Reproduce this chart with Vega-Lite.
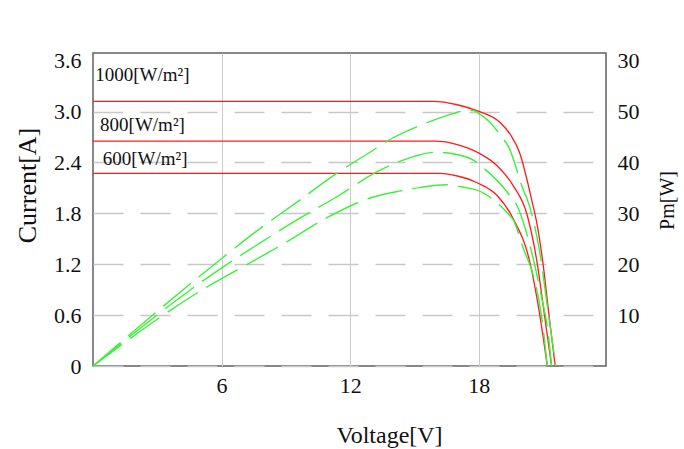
{
  "$schema": "https://vega.github.io/schema/vega-lite/v6.json",
  "autosize": {"type": "none"},
  "padding": {"left": 93, "top": 53, "right": 78, "bottom": 83},
  "width": 513,
  "height": 313,
  "background": "white",
  "config": {
    "font": "Liberation Serif",
    "view": {"stroke": "#606060", "strokeWidth": 1.5},
    "axis": {
      "labelFont": "Liberation Serif",
      "titleFont": "Liberation Serif",
      "labelColor": "#111111",
      "titleColor": "#111111",
      "titleFontWeight": "normal",
      "ticks": false,
      "domain": false,
      "labelFontSize": 22,
      "titleFontSize": 24
    }
  },
  "datasets": {
    "iv": [
      {"G": "1000", "V": 0, "I": 3.12},
      {"G": "1000", "V": 8, "I": 3.12},
      {"G": "1000", "V": 15.9, "I": 3.12},
      {"G": "1000", "V": 17.0, "I": 3.08},
      {"G": "1000", "V": 17.9, "I": 3.01},
      {"G": "1000", "V": 19.0, "I": 2.87},
      {"G": "1000", "V": 19.5, "I": 2.72},
      {"G": "1000", "V": 19.9, "I": 2.52},
      {"G": "1000", "V": 20.48, "I": 1.95},
      {"G": "1000", "V": 20.73, "I": 1.66},
      {"G": "1000", "V": 21.0, "I": 1.21},
      {"G": "1000", "V": 21.28, "I": 0.6},
      {"G": "1000", "V": 21.57, "I": 0},
      {"G": "800", "V": 0, "I": 2.65},
      {"G": "800", "V": 8, "I": 2.65},
      {"G": "800", "V": 16.0, "I": 2.65},
      {"G": "800", "V": 17.0, "I": 2.61},
      {"G": "800", "V": 17.93, "I": 2.52},
      {"G": "800", "V": 18.86, "I": 2.36},
      {"G": "800", "V": 19.6, "I": 2.13},
      {"G": "800", "V": 20.26, "I": 1.78},
      {"G": "800", "V": 20.73, "I": 1.21},
      {"G": "800", "V": 21.07, "I": 0.6},
      {"G": "800", "V": 21.4, "I": 0},
      {"G": "600", "V": 0, "I": 2.27},
      {"G": "600", "V": 8, "I": 2.27},
      {"G": "600", "V": 16.2, "I": 2.27},
      {"G": "600", "V": 17.0, "I": 2.24},
      {"G": "600", "V": 17.93, "I": 2.16},
      {"G": "600", "V": 18.86, "I": 2.01},
      {"G": "600", "V": 19.6, "I": 1.74},
      {"G": "600", "V": 20.4, "I": 1.21},
      {"G": "600", "V": 20.85, "I": 0.6},
      {"G": "600", "V": 21.2, "I": 0}
    ],
    "pv": [
      {"G": "1000", "V": 0, "P": 0},
      {"G": "1000", "V": 5.7, "P": 20.1},
      {"G": "1000", "V": 7.57, "P": 26.3},
      {"G": "1000", "V": 9.52, "P": 32.2},
      {"G": "1000", "V": 11.46, "P": 38.1},
      {"G": "1000", "V": 13.0, "P": 42.2},
      {"G": "1000", "V": 13.94, "P": 44.7},
      {"G": "1000", "V": 15.1, "P": 47.0},
      {"G": "1000", "V": 16.3, "P": 48.9},
      {"G": "1000", "V": 17.3, "P": 50.1},
      {"G": "1000", "V": 17.76, "P": 50.2},
      {"G": "1000", "V": 17.9, "P": 49.9},
      {"G": "1000", "V": 18.5, "P": 48.0},
      {"G": "1000", "V": 19.07, "P": 45.0},
      {"G": "1000", "V": 19.4, "P": 43.0},
      {"G": "1000", "V": 20.1, "P": 34.4},
      {"G": "1000", "V": 20.26, "P": 32.8},
      {"G": "1000", "V": 20.8, "P": 23.5},
      {"G": "1000", "V": 21.27, "P": 9.7},
      {"G": "1000", "V": 21.6, "P": 0},
      {"G": "800", "V": 0, "P": 0},
      {"G": "800", "V": 5.77, "P": 18.6},
      {"G": "800", "V": 7.8, "P": 24.2},
      {"G": "800", "V": 9.75, "P": 29.3},
      {"G": "800", "V": 11.4, "P": 33.3},
      {"G": "800", "V": 13.26, "P": 38.2},
      {"G": "800", "V": 13.9, "P": 39.5},
      {"G": "800", "V": 15.0, "P": 41.2},
      {"G": "800", "V": 15.98, "P": 42.0},
      {"G": "800", "V": 16.8, "P": 41.7},
      {"G": "800", "V": 17.77, "P": 40.4},
      {"G": "800", "V": 18.08, "P": 39.4},
      {"G": "800", "V": 19.4, "P": 33.8},
      {"G": "800", "V": 19.8, "P": 31.4},
      {"G": "800", "V": 20.42, "P": 23.2},
      {"G": "800", "V": 20.96, "P": 13.0},
      {"G": "800", "V": 21.2, "P": 7.7},
      {"G": "800", "V": 21.4, "P": 0},
      {"G": "600", "V": 0, "P": 0},
      {"G": "600", "V": 5.23, "P": 15.3},
      {"G": "600", "V": 6.87, "P": 19.2},
      {"G": "600", "V": 8.97, "P": 24.2},
      {"G": "600", "V": 10.9, "P": 29.1},
      {"G": "600", "V": 13.0, "P": 33.1},
      {"G": "600", "V": 14.35, "P": 34.4},
      {"G": "600", "V": 15.3, "P": 35.1},
      {"G": "600", "V": 16.5, "P": 35.6},
      {"G": "600", "V": 17.45, "P": 35.0},
      {"G": "600", "V": 17.9, "P": 34.6},
      {"G": "600", "V": 18.7, "P": 32.6},
      {"G": "600", "V": 19.4, "P": 29.8},
      {"G": "600", "V": 19.6, "P": 28.8},
      {"G": "600", "V": 20.1, "P": 22.9},
      {"G": "600", "V": 20.56, "P": 17.6},
      {"G": "600", "V": 20.96, "P": 9.0},
      {"G": "600", "V": 21.2, "P": 0}
    ],
    "labels": [
      {"label": "1000[W/m²]", "V": 0.1, "I": 3.43},
      {"label": "800[W/m²]", "V": 0.33, "I": 2.84},
      {"label": "600[W/m²]", "V": 0.45, "I": 2.44}
    ]
  },
  "layer": [
    {
      "layer": [
        {
          "data": {"name": "iv"},
          "mark": {"type": "line", "interpolate": "monotone", "color": "#ff1a1a", "strokeWidth": 1.3},
          "encoding": {
            "x": {
              "field": "V",
              "type": "quantitative",
              "scale": {"domain": [0, 23.94], "nice": false},
              "axis": {
                "values": [6, 12, 18],
                "grid": true,
                "gridColor": "#cccccc",
                "gridWidth": 1,
                "labelPadding": 9,
                "title": "Voltage[V]",
                "titleX": 296,
                "titleY": 57,
                "titleBaseline": "top",
                "titleAlign": "center"
              }
            },
            "y": {
              "field": "I",
              "type": "quantitative",
              "scale": {"domain": [0, 3.69], "nice": false},
              "axis": {
                "values": [0, 0.6, 1.2, 1.8, 2.4, 3.0, 3.6],
                "labelExpr": "datum.value == 0 ? '0' : format(datum.value, '.1f')",
                "grid": true,
                "gridColor": "#c8c8c8",
                "gridWidth": 1.5,
                "gridDash": [30, 17],
                "gridOpacity": {"condition": {"test": "datum.value > 3.5", "value": 0}, "value": 1},
                "labelPadding": 12,
                "title": "Current[A]",
                "titleFontSize": 26,
                "titleAngle": 270,
                "titleX": -66,
                "titleY": 132,
                "titleBaseline": "middle",
                "titleAlign": "center"
              }
            },
            "detail": {"field": "G"}
          }
        },
        {
          "data": {"name": "labels"},
          "mark": {"type": "text", "align": "left", "baseline": "middle", "fontSize": 19, "font": "Liberation Serif", "color": "#111111"},
          "encoding": {
            "x": {"field": "V", "type": "quantitative"},
            "y": {"field": "I", "type": "quantitative"},
            "text": {"field": "label"}
          }
        }
      ]
    },
    {
      "data": {"name": "pv"},
      "mark": {"type": "line", "interpolate": "monotone", "color": "#3cf03c", "strokeWidth": 1.4, "strokeDash": [36, 10]},
      "encoding": {
        "x": {"field": "V", "type": "quantitative"},
        "y": {
          "field": "P",
          "type": "quantitative",
          "scale": {"domain": [0, 61.5], "nice": false},
          "axis": {
            "orient": "right",
            "values": [10, 20, 30, 40, 50, 60],
            "labelExpr": "datum.value == 60 ? '30' : datum.label",
            "grid": false,
            "labelPadding": 11,
            "title": "Pm[W]",
            "titleFontSize": 20,
            "titleAngle": 270,
            "titleX": 61,
            "titleY": 147,
            "titleBaseline": "middle",
            "titleAlign": "center"
          }
        },
        "detail": {"field": "G"}
      }
    }
  ],
  "resolve": {"scale": {"y": "independent"}}
}
